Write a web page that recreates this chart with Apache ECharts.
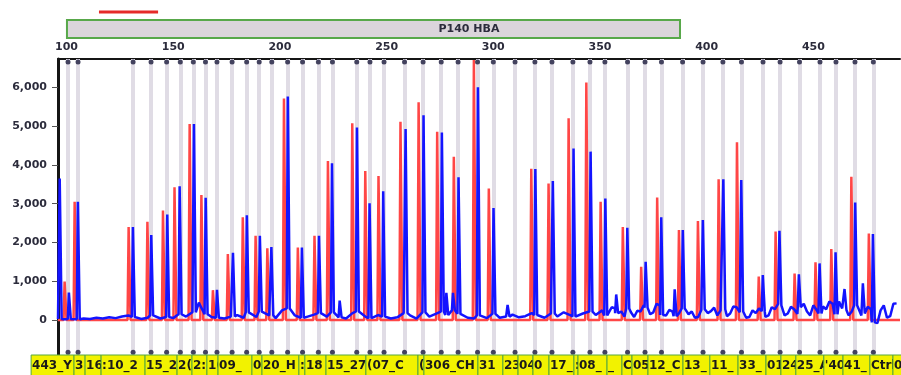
<!DOCTYPE html>
<html>
<head>
<meta charset="utf-8">
<script src="https://cdn.jsdelivr.net/npm/echarts@6/dist/echarts.min.js"></script>
<style>
html, body { margin: 0; padding: 0; background: #fff; }
#main { width: 901px; height: 375px; }
</style>
</head>
<body>
<div id="main"></div>
<script>
// probe bins (size in bp) - gray vertical lines
let bins = [100.7, 105.4, 131.2, 139.6, 146.9, 153.3, 159.4, 165.1, 170.5, 177.6, 184.4, 190.3, 196.2,
    203.6, 210.6, 218.0, 224.6, 236.0, 242.2, 248.8, 258.4, 267.1, 275.6, 283.5, 292.6, 300.0, 310.2,
    319.5, 327.5, 337.3, 345.3, 352.3, 362.9, 371.1, 378.8, 388.7, 398.3, 407.6, 416.3, 426.4, 434.4,
    443.5, 453.1, 460.6, 469.5, 478.1];

// reference sample peaks (red)
let redPos = [99.3, 104.0, 129.3, 138.1, 145.4, 150.8, 157.9, 163.4, 168.8, 175.8, 182.8, 188.8, 194.3,
    202.1, 208.6, 216.4, 222.7, 234.1, 240.2, 246.4, 256.7, 265.2, 273.9, 281.7, 291.1, 298.1, 318.0,
    326.1, 335.5, 343.8, 350.5, 360.9, 369.5, 377.0, 387.2, 396.1, 405.8, 414.4, 424.6, 432.5, 441.4,
    451.2, 458.6, 468.0, 476.2];
let redH = [990, 3050, 2400, 2530, 2820, 3420, 5050, 3220, 770, 1700, 2650, 2170, 1850,
    5710, 1870, 2175, 4100, 5070, 3840, 3710, 5110, 5610, 4850, 4210, 6700, 3390, 3900,
    3520, 5200, 6120, 3050, 2400, 1375, 3160, 2320, 2550, 3630, 4580, 1120, 2280, 1200,
    1490, 1830, 3690, 2230];

// test sample peaks (blue)
let bluePos = [97.0, 101.3, 105.5, 131.3, 139.9, 147.4, 153.2, 159.9, 165.4, 170.7, 178.2, 184.7, 190.8,
    196.2, 203.9, 210.5, 218.5, 224.6, 228.2, 236.3, 242.2, 248.6, 259.1, 267.5, 276.1, 278.2, 281.3,
    283.9, 293.0, 300.3, 306.9, 319.9, 328.1, 337.8, 345.8, 352.7, 357.8, 363.0, 371.6, 378.9, 385.2,
    389.0, 398.4, 408.0, 416.4, 426.5, 434.3, 443.4, 453.1, 460.6, 464.8, 469.8, 473.4, 478.1];
let blueH = [3650, 710, 3050, 2400, 2190, 2720, 3450, 5050, 3150, 780, 1735, 2700, 2170,
    1880, 5760, 1870, 2175, 4040, 500, 4960, 3010, 3320, 4920, 5280, 4830, 700, 700,
    3680, 6000, 2890, 390, 3890, 3580, 4420, 4340, 3130, 660, 2380, 1500, 2650, 790,
    2320, 2580, 3630, 3610, 1160, 2300, 1180, 1460, 1745, 800, 3030, 945, 2215];

// blue baseline noise
let baseX = [96, 99, 102, 105, 108, 111, 114, 117, 120, 123, 126, 129,
    132, 135, 138, 141, 144, 147, 150, 153, 156, 159, 162, 165, 168, 171,
    174, 177, 180, 183, 186, 189, 192, 195, 198,
    201, 204, 207, 210, 213, 216, 219, 222, 225, 228,
    231, 234, 237, 240, 243, 246, 249, 252, 255, 258,
    261, 264, 267, 270, 273, 276, 279, 282, 285, 288, 291, 294, 297, 300,
    303, 306, 309, 312, 315, 318, 321, 324, 327, 330, 333, 336, 339, 342, 345, 348,
    351, 352.5, 354, 355.5, 357, 358.5, 360, 361.5, 363, 364.5,
    366, 367.5, 369, 370.5, 372, 373.5, 375, 376.5, 378, 379.5,
    381, 382.5, 384, 385.5, 387, 388.5, 390, 391.5, 393, 394.5,
    396, 397.5, 399, 400.5, 402, 403.5, 405, 406.5, 408, 409.5,
    411, 412.5, 414, 415.5, 417, 418.5, 420, 421.5, 423, 424.5,
    426, 427.5, 429, 430.5, 432, 433.5, 435, 436.5, 438, 439.5,
    441, 442.5, 444, 445.5, 447, 448.5, 450, 451.5, 453, 454.5,
    456, 457.5, 459, 460.5, 462, 463.5, 465, 466.5, 468, 469.5,
    471, 472.5, 474, 475.5, 477, 478.5, 480, 481.5, 483, 484.5,
    486, 487.5, 489];
let baseY = [30, 20, 30, 20, 40, 30, 60, 40, 70, 50, 90, 120,
    80, 30, 60, 120, 40, 80, 50, 150, 90, 200, 450, 150, 80, 60,
    40, 90, 130, 60, 200, 80, 220, 120, 50,
    250, 300, 120, 60, 90, 140, 180, 90, 200, 70,
    40, 180, 220, 90, 50, 130, 90, 40, 70, 180,
    120, 40, 200, 90, 160, 220, 130, 250, 160, 60, 40, 120, 50, 160,
    60, 90, 140, 70, 100, 180, 130, 60, 170, 90, 200, 130, 90, 170, 220, 130,
    250, 120, 160, 330, 300, 180, 220, 90, 300, 200,
    80, 240, 220, 380, 320, 150, 200, 420, 380, 130,
    120, 260, 220, 100, 170, 300, 280, 150, 220, 60,
    80, 260, 280, 180, 230, 320, 120, 250, 280, 100,
    170, 350, 330, 200, 220, 60, 80, 250, 180, 300,
    230, 80, 120, 330, 280, 420, 380, 120, 170, 340,
    280, 160, 330, 420, 220, 120, 380, 260, 170, 350,
    280, 480, 420, 150, 480, 300, 260, 120, 220, 380,
    330, 120, 170, 340, 280, -60, -80, 250, 380, 60,
    100, 420, 430];

// axis labels
let sizeTicks = [100, 150, 200, 250, 300, 350, 400, 450];
let heightTicks = [0, 1000, 2000, 3000, 4000, 5000, 6000];

// probe label strip under the plot
let labelEdges = [83.4, 103.5, 108.7, 116.2, 136.8, 151.8, 158.8, 165.8, 171.0, 186.9, 191.6, 208.9, 211.7,
    221.6, 240.3, 264.7, 267.5, 292.8, 304.5, 311.6, 318.6, 326.1, 337.8, 339.7, 353.3, 360.3, 365.0,
    372.5, 388.9, 401.5, 414.7, 427.8, 434.8, 441.8, 454.9, 463.9, 476.5, 487.3, 500];
let labelText = ['443_Y', '3', '16', ':10_2', '15_2', '2(', '2:', '1(', '09_', '0', '20_H', ':', '18',
    '15_27', '(07_C', '(', '306_CH', '31', '23', '04', '0', '17_', ':', '08_', '_', 'C', '05',
    '12_C', '13_', '11_', '33_', '01', '24', '25_A', "'40", '41_', 'Ctrl', '08'];

let foot = 0.7;  // half width of a peak at its base, bp
let crown = 0.2; // half width of a peak at its top, bp

function nearestBase(x) {
    let best = 0;
    for (let i = 1; i < baseX.length; i++) {
        if (Math.abs(baseX[i] - x) < Math.abs(baseX[best] - x)) best = i;
    }
    return baseY[best];
}

function trace(pos, h, withBase) {
    let pts = [];
    pos.forEach((p, i) => {
        let b = withBase ? nearestBase(p) : 0;
        pts.push([p - foot, b], [p - crown, h[i]], [p + crown, h[i]], [p + foot, b]);
    });
    if (withBase) {
        baseX.forEach((x, i) => {
            if (!pos.some(p => Math.abs(p - x) < foot + 0.1)) pts.push([x, baseY[i]]);
        });
    } else {
        pts.push([96, 0], [490.6, 0]);
    }
    return pts.sort((a, b) => a[0] - b[0]);
}

let dots = [];
bins.forEach(b => {
    dots.push([b, 6650], [b, -830]);
});

let chart = echarts.init(document.getElementById('main'));

let option = {
    animation: false,
    backgroundColor: '#fff',
    textStyle: { fontFamily: 'DejaVu Sans' },
    grid: { left: 58, right: 1, top: 59, bottom: 20, outerBoundsMode: 'none' },
    xAxis: {
        type: 'value',
        position: 'top',
        min: 96,
        max: 490.6,
        axisLine: { onZero: false, lineStyle: { color: '#151515', width: 2 } },
        axisTick: { show: false },
        splitLine: { show: false },
        axisLabel: {
            customValues: sizeTicks,
            margin: 6,
            color: '#2c2c3c',
            fontSize: 11,
            fontWeight: 'bold'
        }
    },
    yAxis: {
        type: 'value',
        min: -900,
        max: 6727,
        axisLine: { show: true, onZero: false, lineStyle: { color: '#151515', width: 3 } },
        axisTick: { show: true, customValues: heightTicks, length: 6, lineStyle: { color: '#555' } },
        splitLine: { show: false },
        axisLabel: {
            customValues: heightTicks,
            margin: 11,
            color: '#2c2c3c',
            fontSize: 11,
            fontWeight: 'bold',
            formatter: v => v.toLocaleString('en-US')
        }
    },
    series: [
        {
            name: 'reference',
            type: 'line',
            z: 2,
            symbol: 'none',
            data: trace(redPos, redH, false),
            lineStyle: { color: '#ff4646', width: 2.5 },
            markLine: {
                z: 1,
                silent: true,
                symbol: 'none',
                label: { show: false },
                lineStyle: { color: '#e0dce5', width: 4, type: 'solid' },
                data: bins.map(b => ({ xAxis: b }))
            }
        },
        {
            name: 'sample',
            type: 'line',
            z: 3,
            symbol: 'none',
            data: trace(bluePos, blueH, true),
            lineStyle: { color: '#1414ff', width: 2.5 }
        },
        {
            type: 'scatter',
            z: 4,
            silent: true,
            symbol: 'circle',
            symbolSize: 5,
            itemStyle: { color: '#1c1c3c' },
            data: dots
        },
        {
            // each box is drawn after the previous one, so it covers the overflowing text
            type: 'custom',
            clip: false,
            silent: true,
            z: 10,
            encode: { x: [0, 1], y: 2 },
            data: labelText.map((t, i) => [labelEdges[i], labelEdges[i + 1], 0]),
            renderItem: function (params, api) {
                let x0 = api.coord([api.value(0), 0])[0];
                let x1 = api.coord([api.value(1), 0])[0];
                let top = params.coordSys.y + params.coordSys.height;
                return {
                    type: 'group',
                    children: [
                        {
                            type: 'rect',
                            shape: { x: x0, y: top, width: x1 - x0, height: 24 },
                            style: { fill: '#f2f200', stroke: '#58a83c', lineWidth: 1 }
                        },
                        {
                            type: 'text',
                            style: {
                                text: labelText[params.dataIndex],
                                x: x0 + 1,
                                y: top + 11,
                                verticalAlign: 'middle',
                                fontSize: 12,
                                fontWeight: 'bold',
                                fontFamily: 'DejaVu Sans',
                                fill: '#1a1a1a'
                            }
                        }
                    ]
                };
            }
        }
    ]
};
chart.setOption(option);

// panel banner and red marker above the size axis
let px = v => chart.convertToPixel({ xAxisIndex: 0 }, v);
chart.setOption({
    graphic: [
        {
            type: 'rect',
            shape: { x: px(115.2), y: 10.5, width: px(142.9) - px(115.2), height: 3 },
            style: { fill: '#e62a2a' }
        },
        {
            type: 'rect',
            shape: { x: px(100.2), y: 20, width: px(387.5) - px(100.2), height: 18 },
            style: { fill: '#dbd5db', stroke: '#58a84a', lineWidth: 2 }
        },
        {
            type: 'text',
            style: {
                text: 'P140 HBA',
                x: px(288.6),
                y: 29,
                align: 'center',
                verticalAlign: 'middle',
                fontSize: 11,
                fontWeight: 'bold',
                fontFamily: 'DejaVu Sans',
                fill: '#2c2c3c'
            }
        }
    ]
});
</script>
</body>
</html>
